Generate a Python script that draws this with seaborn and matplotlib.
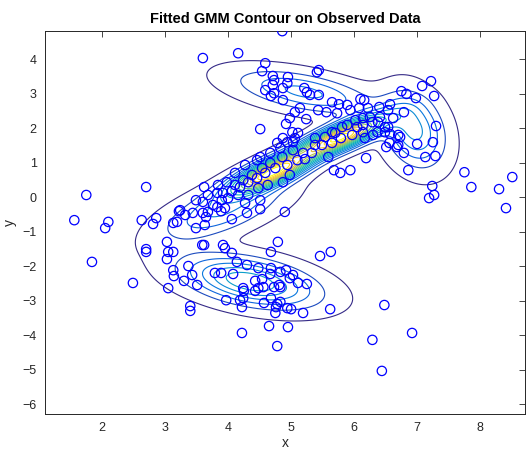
import numpy as np
import pandas as pd
import matplotlib
matplotlib.use("Agg")
import matplotlib.pyplot as plt
import seaborn as sns
from matplotlib.colors import LinearSegmentedColormap

# Observed samples, grouped by where they sit in the plane
left_points = [
    (1.75, 0.06), (1.56, -0.67), (2.05, -0.90), (2.10, -0.72), (1.84, -1.88),
    (2.70, 0.29), (2.63, -0.67), (2.86, -0.61), (2.81, -0.78), (3.22, -0.41),
    (3.13, -0.75), (3.19, -0.72), (3.49, -0.90), (3.60, -0.14), (3.60, -0.46),
    (3.59, -1.39), (2.70, -1.59), (2.70, -1.51), (3.03, -1.30), (3.05, -1.59),
    (3.13, -1.59), (3.03, -1.80), (3.13, -2.12), (3.14, -2.29), (3.37, -2.00),
    (3.43, -2.26), (3.30, -2.43), (3.51, -2.55), (3.05, -2.64), (2.49, -2.49),
    (3.40, -3.16), (3.40, -3.30),
]
lower_points = [
    (4.90, -0.43), (4.51, -0.35), (4.30, -0.46), (4.06, -0.64), (3.89, -0.41),
    (3.68, -0.43), (3.65, -0.58), (4.79, -1.30), (4.68, -1.59), (5.46, -1.71),
    (5.63, -1.59), (3.62, -1.39), (3.92, -1.39), (3.95, -1.48), (4.06, -1.62),
    (4.14, -1.88), (4.30, -1.97), (4.48, -2.06), (4.68, -2.06), (4.83, -2.17),
    (4.92, -2.12), (5.03, -2.26), (4.98, -2.35), (3.79, -2.20), (3.89, -2.20),
    (4.08, -2.23), (4.43, -2.43), (4.54, -2.38), (4.67, -2.23), (5.25, -2.52),
    (5.11, -2.49), (4.81, -2.55), (4.24, -2.64), (5.62, -3.25), (5.19, -3.36),
    (4.95, -3.77), (4.65, -3.74), (4.22, -3.94), (4.78, -4.32), (4.75, -3.36),
    (4.57, -3.07), (4.68, -2.93), (4.78, -3.10), (4.83, -3.04), (4.76, -3.19),
    (4.94, -3.22), (5.00, -3.25), (3.97, -2.99), (4.19, -2.99), (4.24, -2.93),
    (4.22, -3.19), (4.25, -2.72), (4.43, -2.72), (4.48, -2.64), (4.56, -2.61),
    (4.73, -2.61), (4.83, -2.61),
]
far_low_points = [(6.48, -3.13), (6.92, -3.94), (6.29, -4.14), (6.44, -5.04)]
upper_points = [
    (4.86, 4.81), (3.60, 4.03), (4.16, 4.17), (4.59, 3.88), (4.54, 3.65),
    (4.71, 3.51), (4.73, 3.39), (4.95, 3.48), (4.94, 3.30), (4.71, 3.25),
    (4.59, 3.10), (4.87, 3.16), (4.68, 2.93), (4.73, 3.01), (4.87, 2.81),
    (5.41, 3.62), (5.44, 3.68), (5.21, 3.16), (5.25, 3.04), (5.30, 2.96),
    (5.44, 2.96), (5.65, 2.75), (5.76, 2.69), (5.89, 2.67), (6.10, 2.84),
    (6.08, 2.58), (5.43, 2.52), (5.56, 2.46), (5.73, 2.43), (5.14, 2.58),
    (5.06, 2.46), (4.98, 2.29), (5.24, 2.26), (4.92, 2.12), (5.11, 1.86),
    (4.51, 1.97), (4.94, 1.59), (5.03, 1.59), (5.94, 2.52), (6.22, 2.58),
    (6.54, 2.52),
]
right_points = [
    (7.22, 3.36), (7.08, 3.22), (7.27, 2.93), (6.75, 3.07), (6.83, 2.99),
    (6.98, 2.87), (7.30, 2.06), (6.57, 2.69), (6.79, 2.46), (6.16, 2.81),
    (6.40, 2.61), (6.70, 1.80), (6.56, 1.57), (6.70, 1.51), (7.00, 1.54),
    (7.25, 1.59), (6.51, 1.45), (6.79, 1.28), (7.13, 1.16), (7.29, 1.19),
    (6.19, 1.13), (6.86, 0.78), (7.75, 0.72), (8.51, 0.58), (7.86, 0.29),
    (8.30, 0.23), (7.24, 0.32), (7.27, 0.06), (7.19, -0.03), (8.41, -0.32),
]
band_points = [
    (6.14, 2.29), (6.29, 2.17), (6.41, 2.32), (6.49, 2.03), (6.37, 1.88),
    (6.57, 1.83), (6.73, 1.74), (6.68, 1.45), (6.14, 1.88), (6.05, 2.03),
    (5.97, 1.80), (5.79, 1.71), (5.65, 1.57), (5.49, 1.51), (5.33, 1.28),
    (5.19, 1.28), (5.10, 1.07), (4.94, 0.93), (4.75, 0.84), (4.59, 0.70),
    (4.46, 0.55), (4.32, 0.43), (4.19, 0.29), (4.06, 0.17), (3.92, 0.12),
    (3.84, 0.35), (3.98, 0.43), (4.11, 0.70), (4.27, 0.93), (4.46, 1.07),
    (4.51, 1.16), (4.67, 1.28), (4.83, 1.42), (5.06, 1.71), (5.02, 1.88),
    (4.78, 1.57), (4.87, 1.71), (5.22, 1.10), (5.38, 1.51), (5.54, 1.74),
    (5.70, 1.86), (5.89, 2.09), (6.02, 2.23), (5.81, 2.03), (5.65, 1.88),
    (5.38, 1.71), (5.03, 1.36), (4.86, 1.16), (4.67, 0.99), (4.54, 0.84),
    (4.38, 0.64), (4.24, 0.49), (4.11, 0.35), (4.32, 0.06), (4.48, 0.26),
    (4.63, 0.35), (4.87, 0.43), (4.98, 0.64), (5.68, 0.78), (5.78, 0.70),
    (5.94, 0.78), (5.59, 1.16), (3.90, -0.09), (4.00, -0.03), (4.16, 0.06),
    (3.83, 0.12), (4.27, -0.17), (4.51, -0.09), (3.83, -0.29), (3.95, -0.32),
    (6.25, 2.32), (6.14, 2.09), (6.38, 2.17), (6.49, 1.88), (6.30, 1.80),
    (6.17, 1.71), (6.62, 2.29), (6.54, 2.03), (3.62, 0.29), (3.68, 0.06),
    (3.49, -0.09), (3.76, -0.23), (3.44, -0.46), (3.24, -0.38), (3.32, -0.52),
    (3.63, -0.81),
]

# Fitted mixture: weight, mean, axis standard deviations and orientation
gmm_weight = [0.19, 0.19, 0.10, 0.20, 0.10, 0.11]
gmm_mean_x = [4.70, 5.80, 3.90, 4.35, 5.20, 6.95]
gmm_mean_y = [0.72, 1.75, -0.40, -2.45, 3.05, 1.95]
gmm_sd_major = [0.55, 0.55, 0.75, 0.72, 0.75, 0.70]
gmm_sd_minor = [0.20, 0.20, 0.35, 0.40, 0.33, 0.30]
gmm_angle = [42.0, 40.0, 40.0, -25.0, -22.0, -82.0]

x_ticks = [2, 3, 4, 5, 6, 7, 8]
y_ticks = [-6, -5, -4, -3, -2, -1, 0, 1, 2, 3, 4]
x_range = (1.095, 8.71)
y_range = (-6.29, 4.81)

pts = left_points + lower_points + far_low_points + upper_points + right_points + band_points
df = pd.DataFrame(pts, columns=["x", "y"])

# parula-like colour ramp
parula = LinearSegmentedColormap.from_list("parula", [
    (0.208, 0.166, 0.529), (0.060, 0.360, 0.860), (0.040, 0.470, 0.870),
    (0.055, 0.590, 0.820), (0.020, 0.680, 0.740), (0.180, 0.740, 0.630),
    (0.400, 0.770, 0.480), (0.650, 0.750, 0.330), (0.870, 0.730, 0.250),
    (0.990, 0.780, 0.180), (0.977, 0.984, 0.081)])


def gmm_pdf(X, Y):
    Z = np.zeros_like(X)
    for w, mx, my, a, b, ang in zip(gmm_weight, gmm_mean_x, gmm_mean_y,
                                    gmm_sd_major, gmm_sd_minor, gmm_angle):
        t = np.deg2rad(ang)
        R = np.array([[np.cos(t), -np.sin(t)], [np.sin(t), np.cos(t)]])
        C = R @ np.diag([a * a, b * b]) @ R.T
        Ci = np.linalg.inv(C)
        dx, dy = X - mx, Y - my
        q = Ci[0, 0] * dx * dx + 2 * Ci[0, 1] * dx * dy + Ci[1, 1] * dy * dy
        Z += w * np.exp(-0.5 * q) / (2 * np.pi * np.sqrt(np.linalg.det(C)))
    return Z


sns.set_theme(style="white")
plt.rcParams["font.family"] = ["Liberation Sans", "DejaVu Sans"]

fig = plt.figure(figsize=(5.27, 4.58), dpi=100)
ax = fig.add_axes([0.0854, 0.096, 0.9106, 0.836])

gx = np.linspace(*x_range, 500)
gy = np.linspace(*y_range, 500)
GX, GY = np.meshgrid(gx, gy)
GZ = gmm_pdf(GX, GY)
levels = np.linspace(0.006, GZ.max(), 17)[:-1]
ax.contour(GX, GY, GZ, levels=levels, cmap=parula, linewidths=0.8)

sns.scatterplot(data=df, x="x", y="y", ax=ax, marker="o", s=45,
                facecolors="none", edgecolors="blue", linewidth=0.9, zorder=3)

ax.set_xlim(*x_range)
ax.set_ylim(*y_range)
ax.set_xticks(x_ticks)
ax.set_yticks(y_ticks)
ax.tick_params(direction="in", length=4, width=0.6, colors="0.15",
               top=True, right=True, labelsize=9, pad=6)
for s in ax.spines.values():
    s.set_color("0.15")
    s.set_linewidth(0.7)
ax.set_xlabel("x", fontsize=10, color="0.15", labelpad=1)
ax.set_ylabel("y", fontsize=10, color="0.15", labelpad=4)
ax.set_title("Fitted GMM Contour on Observed Data", fontsize=10.5,
             fontweight="bold", color="black", pad=6)

fig.savefig("out.png", dpi=100)
